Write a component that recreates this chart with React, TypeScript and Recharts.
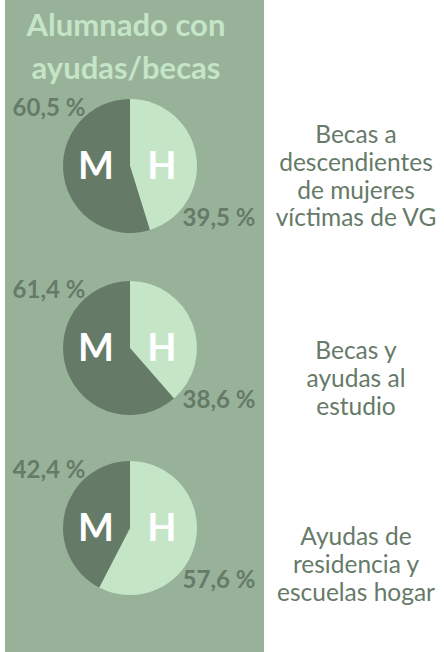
import React from "react";
import { Pie, PieChart } from "recharts";

// drawn shares (H first, clockwise from 12 o'clock)
const groups = ["Becas a descendientes de mujeres víctimas de VG", "Becas y ayudas al estudio", "Ayudas de residencia y escuelas hogar"];
const hombres = [45.2, 38.6, 57.6];
const mujeres = [54.8, 61.4, 42.4];
const hombresLabel = ["39,5 %", "38,6 %", "57,6 %"];
const mujeresLabel = ["60,5 %", "61,4 %", "42,4 %"];
const groupLines = [
  ["Becas a", "descendientes", "de mujeres", "víctimas de VG"],
  ["Becas y", "ayudas al", "estudio"],
  ["Ayudas de", "residencia y", "escuelas hogar"],
];
const titleLines = ["Alumnado con", "ayudas/becas"];

const PANEL = "#98b29a";
const DARK = "#667a68";
const LIGHT = "#c5e5c7";
const FONT = "Lato, 'Open Sans', sans-serif";

const pieCenters = [166, 348, 528];
const textBaselines = [143, 359, 545];

const renderLabel = (props: any) => {
  const { cx, cy, index, payload } = props;
  const isH = index === 0;
  return (
    <g>
      <text
        x={isH ? cx + 32 : cx - 34}
        y={cy + 13}
        textAnchor="middle"
        fill="#ffffff"
        fontFamily={FONT}
        fontWeight={700}
        fontSize={38}
      >
        {isH ? "H" : "M"}
      </text>
      <text
        x={isH ? cx + 89 : cx - 81}
        y={isH ? cy + 60 : cy - 50}
        textAnchor="middle"
        fill={DARK}
        fontFamily={FONT}
        fontWeight={700}
        fontSize={24}
      >
        {payload.text}
      </text>
    </g>
  );
};

const App = () => {
  const pies = groups.map((g, i) => [
    { name: "H", value: hombres[i], text: hombresLabel[i], fill: LIGHT },
    { name: "M", value: mujeres[i], text: mujeresLabel[i], fill: DARK },
  ]);

  return (
    <div style={{ position: "absolute", left: 0, top: 0, width: 444, height: 652, background: "#fff", overflow: "hidden" }}>
      <div style={{ position: "absolute", left: 5, top: 0, width: 259, height: 652, background: PANEL }} />
      <div style={{ position: "absolute", left: 0, top: 0 }}>
        <PieChart width={444} height={652} margin={{ top: 0, right: 0, bottom: 0, left: 0 }}>
          {pies.map((d, i) => (
            <Pie
              key={groups[i]}
              data={d}
              dataKey="value"
              cx={130}
              cy={pieCenters[i]}
              outerRadius={67}
              startAngle={90}
              endAngle={-270}
              stroke="none"
              label={renderLabel}
              labelLine={false}
              isAnimationActive={false}
            />
          ))}
        </PieChart>
      </div>
      <svg width={444} height={652} style={{ position: "absolute", left: 0, top: 0, pointerEvents: "none" }}>
        {titleLines.map((t, i) => (
          <text key={t} x={126} y={36 + i * 43} textAnchor="middle" fill={LIGHT} fontFamily={FONT} fontWeight={700} fontSize={31}>
            {t}
          </text>
        ))}
        {groupLines.map((lines, gi) =>
          lines.map((t, li) => (
            <text key={t} x={356} y={textBaselines[gi] + li * 27.8} textAnchor="middle" fill={DARK} fontFamily={FONT} fontSize={24.5}>
              {t}
            </text>
          ))
        )}
      </svg>
    </div>
  );
};

export default App;
